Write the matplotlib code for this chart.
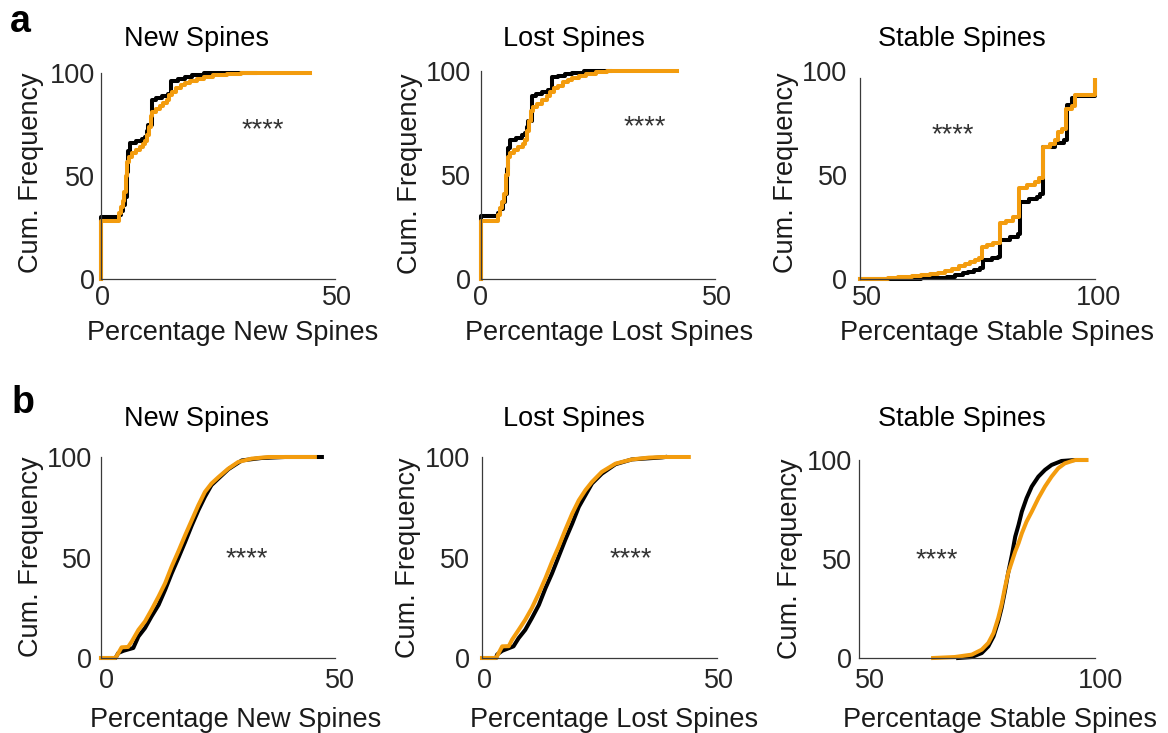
import matplotlib
matplotlib.use("Agg")
import matplotlib.pyplot as plt
from matplotlib.patches import Rectangle
from matplotlib.transforms import ScaledTranslation

plt.rcParams['font.family'] = ['Liberation Sans', 'DejaVu Sans']

# ---- data ----
# row a, step ECDFs
a_new_ctrl_x = [0, 0, 3.9, 4.3, 4.7, 5.2, 5.5, 5.8, 6.2, 7.5, 8.8, 9.4, 9.8, 10.1, 10.8, 11.8, 13.0, 14.3, 15.0, 16.5, 18.0, 19.5, 22.0, 33.0]
a_new_ctrl_y = [0, 30, 31, 33, 36, 40, 52, 62, 66, 67, 68, 69, 72, 75, 87, 88, 89, 90, 96, 97, 98, 99, 100, 100]
a_new_trt_x = [0, 0, 3.8, 4.3, 4.6, 5.0, 5.3, 5.6, 6.0, 6.7, 7.5, 8.3, 9.0, 9.5, 9.8, 10.2, 10.6, 11.0, 11.8, 12.5, 13.3, 14.0, 14.5, 15.2, 16.0, 17.0, 18.0, 19.0, 20.5, 22.0, 24.0, 27.0, 30.0, 44.7]
a_new_trt_y = [0, 28, 32, 35, 38, 42, 50, 57, 59, 61, 62.5, 64, 65.5, 67, 70, 74, 79, 81, 82.5, 84, 85.5, 87, 89.5, 91, 92.5, 94, 95, 96, 97, 98, 99, 99.6, 100, 100]

a_lost_ctrl_x = [0, 0, 3.6, 4.1, 4.6, 5.1, 5.5, 5.8, 6.2, 7.5, 8.7, 9.4, 9.8, 10.1, 10.8, 11.8, 13.0, 14.4, 15.1, 16.5, 18.0, 19.4, 22.0, 27.6]
a_lost_ctrl_y = [0, 30.5, 31.5, 33.5, 37, 41, 53, 63, 67, 68, 69, 70, 73, 76, 88, 89, 90, 91, 97, 97.8, 98.5, 99.2, 100, 100]
a_lost_trt_x = [0, 0, 3.6, 4.1, 4.5, 4.9, 5.3, 5.7, 6.2, 7.0, 8.0, 9.0, 9.4, 9.8, 10.2, 10.6, 11.2, 12.0, 13.0, 14.0, 14.8, 15.6, 16.5, 17.5, 18.5, 19.5, 21.0, 22.5, 24.5, 27.0, 41.9]
a_lost_trt_y = [0, 28, 31, 34, 37, 41, 50, 58.5, 60.5, 62, 63.5, 65, 67, 71, 76, 81, 82.5, 84, 86, 88, 90, 92, 93, 94.5, 95.5, 96.5, 97.5, 98.5, 99.3, 100, 100]

a_stable_ctrl_x = [50, 60, 63, 66.7, 68.5, 70.2, 72.0, 73.0, 74.3, 75.5, 76.1, 78.0, 79.4, 79.8, 82.0, 83.7, 84.0, 86.0, 87.6, 88.2, 88.9, 91.5, 93.3, 94.0, 95.0, 95.7, 100]
a_stable_ctrl_y = [0, 0.2, 0.4, 0.6, 1.2, 1.7, 2.7, 3.4, 4.4, 5.3, 9.0, 9.9, 10.7, 18.6, 20.4, 21.8, 37.2, 38.6, 39.6, 40.7, 63.7, 65.3, 66.9, 83.8, 87.0, 87.8, 100]
a_stable_trt_x = [50, 56, 58, 61, 63, 65, 66.7, 68, 69.5, 71, 72.3, 73.5, 74.5, 75.3, 75.9, 77, 78.3, 79.8, 81, 82.5, 83.9, 85.5, 87.2, 88, 88.9, 90.5, 91.5, 92.2, 93, 93.8, 95, 95.7, 100]
a_stable_trt_y = [0, 0.5, 1, 1.5, 2, 2.6, 3.1, 3.9, 4.9, 6.1, 7.4, 8.2, 9.0, 10.2, 15.5, 16.3, 17.1, 26.7, 28.1, 29.6, 43.7, 45.1, 46.6, 48.5, 63.7, 65, 66.9, 70.8, 72.3, 81.5, 83.4, 88.7, 100]

# row b, dense ECDFs
b_new_ctrl_x = [0, 3.1, 3.7, 4.8, 6.9, 8.0, 9.4, 10.8, 12.3, 13.7, 15.1, 16.5, 18.0, 19.4, 20.8, 22.2, 23.6, 25.1, 27.2, 30.1, 34.3, 39.3, 47.2]
b_new_ctrl_y = [0, 0, 2.5, 3.6, 5, 10.7, 14.9, 20.7, 26.4, 33.9, 42.1, 49.6, 57.9, 66, 73.5, 80.2, 86, 89.3, 93.9, 98.3, 99.5, 100, 100]
b_new_trt_x = [0, 3.1, 4.4, 5.8, 6.6, 8.0, 9.4, 10.8, 12.3, 13.7, 15.1, 16.5, 18.0, 19.4, 20.8, 22.2, 23.6, 25.1, 27.2, 29.3, 32.2, 35.8, 45.7]
b_new_trt_y = [0, 0, 5.3, 5.5, 8.3, 14, 18.2, 24, 30.6, 37.2, 45.5, 52.9, 61.2, 68.6, 76, 82.6, 86.8, 90, 94.2, 97.5, 99.2, 100, 100]

b_lost_ctrl_x = [0, 3.0, 3.2, 4.3, 6.7, 7.8, 9.2, 10.6, 12.1, 13.5, 14.9, 16.3, 17.7, 19.2, 20.6, 22.0, 23.4, 25.5, 28.4, 31.9, 38.3, 39.0]
b_lost_ctrl_y = [0, 0, 1.7, 3.6, 5.8, 9.9, 14, 19.8, 26.4, 34.7, 42.1, 50.4, 58.7, 66.9, 75.2, 81, 86.8, 91.7, 96.4, 98.8, 99.8, 100]
b_lost_trt_x = [0, 3.0, 4.3, 5.7, 6.4, 7.8, 9.2, 10.6, 12.1, 13.5, 14.9, 16.3, 17.7, 19.2, 20.6, 22.0, 23.4, 25.5, 28.4, 31.9, 35.5, 38.3, 44.0]
b_lost_trt_y = [0, 0, 5.8, 5.9, 9.1, 14, 19, 24.8, 32.2, 39.7, 47.9, 55.4, 63.6, 71.9, 78.5, 83.5, 87.6, 92.6, 96.7, 98.8, 99.7, 100, 100]

b_stable_ctrl_x = [71.0, 73.9, 76.0, 77.4, 78.5, 79.5, 80.2, 80.9, 81.6, 82.4, 83.1, 83.8, 84.5, 85.5, 86.6, 88.0, 89.4, 90.8, 92.9, 95.8, 97.9]
b_stable_ctrl_y = [0, 0.5, 2.5, 5.9, 10.9, 18.5, 25.2, 33.6, 42.9, 52.1, 61.3, 67.2, 73.9, 80.7, 86.6, 91.6, 95, 97.5, 99.5, 100, 100]
b_stable_trt_x = [65.7, 70.3, 73.9, 76.0, 77.4, 78.5, 79.5, 80.2, 80.9, 81.6, 82.4, 83.1, 83.8, 84.5, 85.5, 86.6, 88.0, 89.4, 90.8, 92.2, 93.6, 95.8, 98.2]
b_stable_trt_y = [0, 0.5, 1.7, 4.2, 7.6, 12.6, 20.2, 26.9, 35.3, 42.9, 48.7, 53.8, 58, 63, 68.9, 73.9, 80.7, 86.6, 91.6, 95.8, 98.3, 100, 100]

titles = ['New Spines', 'Lost Spines', 'Stable Spines']
xlabels = ['Percentage New Spines', 'Percentage Lost Spines', 'Percentage Stable Spines']
yticks = [0, 50, 100]
xlims = [(0, 50), (0, 50), (50, 100)]
star_pos_a = [(34.6, 69), (35, 69.4), (69.8, 66)]
star_pos_b = [(31.2, 45.5), (31.6, 45.5), (66.5, 46)]
a_stable_ytop = 96.6  # visible top of the stable-spines y axis in row a

BLACK = '#000000'
ORANGE = '#F39C0E'
W, H = 1168, 733
FS = 19.5

fig = plt.figure(figsize=(W / 100, H / 100), dpi=100)


def px_axes(l, r, t, b):
    return fig.add_axes([l / W, 1 - b / H, (r - l) / W, (b - t) / H])


def px_text(x, y, s, **kw):
    fig.text(x / W, 1 - y / H, s, **kw)


# axes boxes in pixels: left, right, top, bottom
boxes_a = [(101, 335, 73, 279), (481, 715, 71, 279), (860, 1095, 71, 279)]
boxes_b = [(101, 335, 457, 658), (482, 717, 457, 658), (859, 1095, 460, 658)]

rows = [
    dict(boxes=boxes_a, step=True, stars=star_pos_a, ypad=[4, 7, 9], xpad=4,
         xshift=[(2, 2), (0, 2), (7, 3)],
         data=[(a_new_ctrl_x, a_new_ctrl_y, a_new_trt_x, a_new_trt_y),
               (a_lost_ctrl_x, a_lost_ctrl_y, a_lost_trt_x, a_lost_trt_y),
               (a_stable_ctrl_x, a_stable_ctrl_y, a_stable_trt_x, a_stable_trt_y)],
         title_y=46, xlabel_y=340, xlabel_dx=[15, 11, 20],
         ylabel=[(38, 173), (417, 174), (793, 173)]),
    dict(boxes=boxes_b, step=False, stars=star_pos_b, ypad=[6.5, 8.5, 5], xpad=7.5,
         xshift=[(5, 5), (2, 2), (11, 5)],
         data=[(b_new_ctrl_x, b_new_ctrl_y, b_new_trt_x, b_new_trt_y),
               (b_lost_ctrl_x, b_lost_ctrl_y, b_lost_trt_x, b_lost_trt_y),
               (b_stable_ctrl_x, b_stable_ctrl_y, b_stable_trt_x, b_stable_trt_y)],
         title_y=426, xlabel_y=727, xlabel_dx=[18, 15, 23],
         ylabel=[(38, 557), (415, 558), (797, 559)]),
]
title_x = [196, 574, 962]

for ri, row in enumerate(rows):
    for i in range(3):
        l, r, t, b = row['boxes'][i]
        ax = px_axes(l, r, t, b)
        cx, cy, tx, ty = row['data'][i]
        ds = 'steps-post' if row['step'] else 'default'
        lines = ax.plot(cx, cy, color=BLACK, lw=2.9, drawstyle=ds, clip_on=False)
        lines += ax.plot(tx, ty, color=ORANGE, lw=2.9, drawstyle=ds, clip_on=False)
        ax.set_xlim(*xlims[i])
        ax.set_ylim(0, 100)
        ax.set_xticks(list(xlims[i]))
        ax.set_yticks(yticks)
        for side in ['top', 'right']:
            ax.spines[side].set_visible(False)
        for side in ['left', 'bottom']:
            ax.spines[side].set_color('#3a3a3a')
            ax.spines[side].set_linewidth(0.9)
        if ri == 0 and i == 2:
            # the original axis stops short of 100 and clips the curves there
            ax.spines['left'].set_bounds(0, a_stable_ytop)
            clip = Rectangle((45, -5), 60, 5 + a_stable_ytop, transform=ax.transData)
            for ln in lines:
                ln.set_clip_on(True)
                ln.set_clip_path(clip)
        ax.tick_params(length=0, labelsize=FS, colors='#262626')
        ax.tick_params(axis='y', pad=row['ypad'][i])
        ax.tick_params(axis='x', pad=row['xpad'])
        # nudge x tick labels sideways like the original
        for lbl, dx in zip(ax.get_xticklabels(), row['xshift'][i]):
            lbl.set_transform(lbl.get_transform() + ScaledTranslation(dx / 100, 0, fig.dpi_scale_trans))
        ax.set_facecolor('none')
        sx, sy = row['stars'][i]
        ax.text(sx, sy, '****', fontsize=FS, color='#333333', ha='center', va='baseline')

        px_text(title_x[i], row['title_y'], titles[i], fontsize=FS, ha='center', va='baseline')
        px_text((l + r) / 2 + row['xlabel_dx'][i], row['xlabel_y'], xlabels[i],
                fontsize=FS, ha='center', va='baseline', color='#1a1a1a')
        yx, yy = row['ylabel'][i]
        px_text(yx, yy, 'Cum. Frequency', fontsize=FS, rotation=90, rotation_mode='anchor',
                ha='center', va='baseline', color='#1a1a1a')

px_text(10, 32, 'a', fontsize=27, fontweight='bold', ha='left', va='baseline')
px_text(12, 413, 'b', fontsize=27, fontweight='bold', ha='left', va='baseline')

fig.savefig('out.png', dpi=100)
